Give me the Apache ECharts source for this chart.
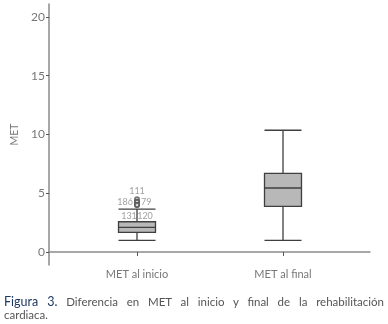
<!DOCTYPE html>
<html>
<head>
<meta charset="utf-8">
<script src="https://cdn.jsdelivr.net/npm/echarts@6/dist/echarts.min.js"></script>
<style>
  html, body { margin: 0; padding: 0; background: #fff; }
  #wrap { position: relative; width: 388px; height: 324px; }
  #chart { position: absolute; left: 0; top: 0; width: 388px; height: 324px; }
  .cap { position: absolute; left: 4px; width: 380px; font-family: Lato, "DejaVu Sans", sans-serif; font-size: 11.5px; color: #555; white-space: nowrap; }
  #cap1 { top: 294px; text-align: justify; text-align-last: justify; white-space: normal; }
  #cap2 { top: 308px; }
  .fig { color: #1f3864; font-size: 12.5px; }
</style>
</head>
<body>
<div id="wrap">
  <div id="chart"></div>
  <div class="cap" id="cap1"><span class="fig">Figura 3.</span> Diferencia en MET al inicio y final de la rehabilitación</div>
  <div class="cap" id="cap2">cardiaca.</div>
</div>
<script>
var categories = ['MET al inicio', 'MET al final'];
// [min, Q1, median, Q3, max]
var boxInicio = [1.0, 1.68, 2.1, 2.58, 3.66];
var boxFinal = [1.0, 3.89, 5.45, 6.7, 10.36];
var outlierValues = [4.5, 4.25, 4.25, 4.0, 4.0];
var outlierLabels = ['111', '186', '79', '131', '120'];
var outlierLabelPos = ['top', 'left', 'right', 'bottom', 'bottom'];
var yTicks = [0, 5, 10, 15, 20];

var chart = echarts.init(document.getElementById('chart'));
var font = 'Lato, "DejaVu Sans", sans-serif';
var axisColor = '#8a8a8a';
var textColor = '#777';

var outlierData = outlierValues.map(function (v, i) {
  var pos = outlierLabelPos[i];
  var off = [0, 0];
  if (i === 3) off = [-8, 3];
  if (i === 4) off = [8, 3];
  return {
    value: [categories[0], v],
    label: { show: true, formatter: outlierLabels[i], position: pos, offset: off, distance: 1 }
  };
});

chart.setOption({
  animation: false,
  grid: [
    { left: 49, right: 18, top: 4, bottom: 59 },
    { left: 64, width: 292, top: 4, bottom: 59 }
  ],
  xAxis: [
    { type: 'value', gridIndex: 0, min: 0, max: 1,
      axisLine: { show: true, lineStyle: { color: axisColor, width: 1.5 } },
      axisTick: { show: false }, axisLabel: { show: false }, splitLine: { show: false } },
    { type: 'category', gridIndex: 1, data: categories,
      axisLine: { show: false },
      axisTick: { show: true, alignWithLabel: true, length: 4, lineStyle: { color: '#555' } },
      axisLabel: { color: textColor, fontFamily: font, fontSize: 11, margin: 4 },
      splitLine: { show: false } }
  ],
  yAxis: [
    { type: 'value', gridIndex: 0, min: -1.1, max: 21.1,
      name: 'MET', nameLocation: 'middle', nameGap: 26,
      nameTextStyle: { color: textColor, fontFamily: font, fontSize: 10.5 },
      axisLine: { show: true, lineStyle: { color: axisColor, width: 1.5 } },
      axisTick: { show: true, length: 3, customValues: yTicks, lineStyle: { color: '#555' } },
      axisLabel: { color: textColor, fontFamily: font, fontSize: 12, margin: 4, customValues: yTicks },
      splitLine: { show: false } },
    { type: 'value', gridIndex: 1, min: -1.1, max: 21.1, show: false }
  ],
  series: [
    { type: 'boxplot', xAxisIndex: 1, yAxisIndex: 1,
      boxWidth: [37, 37],
      data: [boxInicio, boxFinal],
      itemStyle: { color: '#b8b8b8', borderColor: '#3f3f3f', borderWidth: 1.3 } },
    { type: 'scatter', xAxisIndex: 1, yAxisIndex: 1,
      symbol: 'emptyCircle', symbolSize: 4,
      itemStyle: { color: '#555', borderColor: '#555', borderWidth: 1 },
      label: { color: '#888', fontFamily: font, fontSize: 9 },
      data: outlierData }
  ]
});
</script>
</body>
</html>
